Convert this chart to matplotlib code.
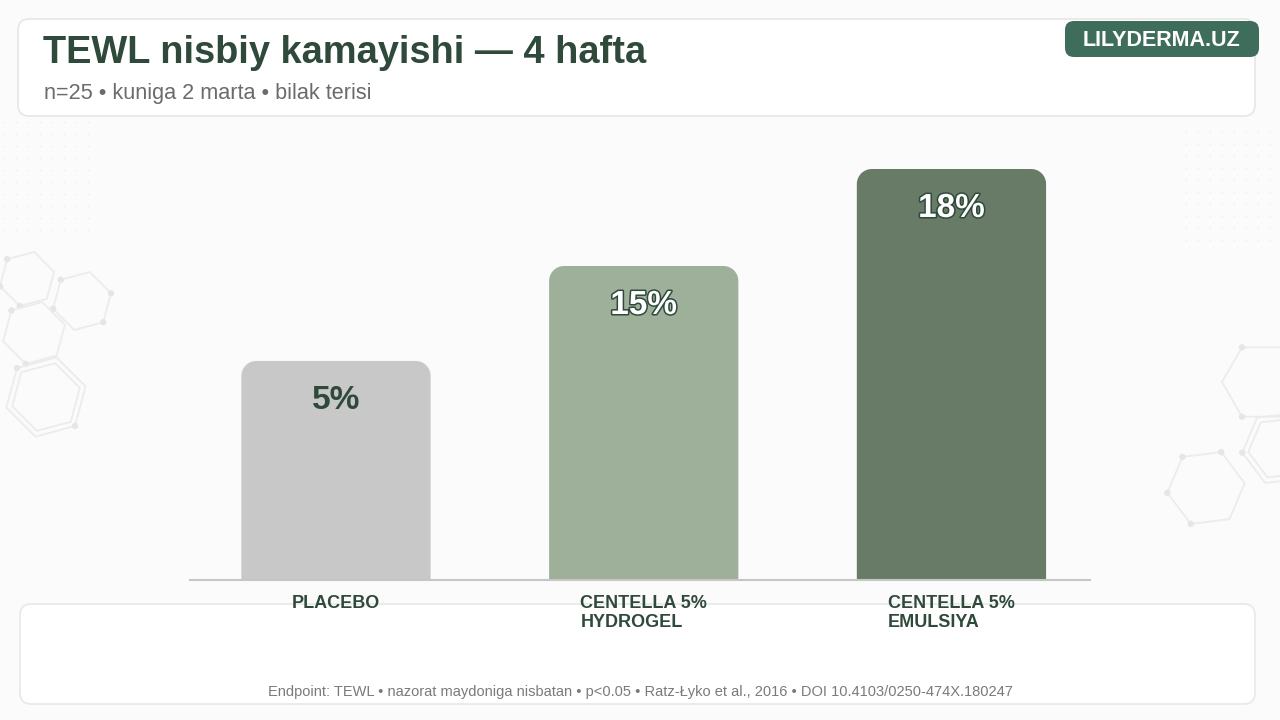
import numpy as np
import matplotlib
matplotlib.use("Agg")
import matplotlib.pyplot as plt
import matplotlib.patheffects as pe
from matplotlib.patches import FancyBboxPatch, Polygon, Circle

# data
categories = ["PLACEBO", "CENTELLA 5%\nHYDROGEL", "CENTELLA 5%\nEMULSIYA"]
tewl_drop = [5, 15, 18]            # % printed on the bars
bar_level = [53.3, 76.4, 100.0]    # bar heights as drawn (% of tallest bar)
bar_colors = ["#c8c8c8", "#9fb09a", "#677b66"]
value_colors = ["#2f4a3b", "#ffffff", "#ffffff"]

title = "TEWL nisbiy kamayishi \u2014 4 hafta"
subtitle = "n=25 \u2022 kuniga 2 marta \u2022 bilak terisi"
badge = "LILYDERMA.UZ"
footnote = ("Endpoint: TEWL \u2022 nazorat maydoniga nisbatan \u2022 p<0.05 \u2022 "
            "Ratz-\u0141yko et al., 2016 \u2022 DOI 10.4103/0250-474X.180247")

plt.rcParams['font.family'] = ['Liberation Sans', 'DejaVu Sans']
dark = "#2f4a3b"

W, H = 1280, 720
fig = plt.figure(figsize=(12.8, 7.2), dpi=100)
fig.patch.set_facecolor("#fbfbfb")

# background layer in pixel coordinates
bg = fig.add_axes([0, 0, 1, 1])
bg.set_xlim(0, W)
bg.set_ylim(H, 0)
bg.axis("off")

# faint dot grids
for x0, x1, y0, y1 in [(4, 100, 122, 232), (1186, 1280, 132, 250)]:
    gx, gy = np.meshgrid(np.arange(x0, x1, 12), np.arange(y0, y1, 12))
    bg.scatter(gx.ravel(), gy.ravel(), s=1.0, color="#ebebeb", lw=0, zorder=0)

# hexagon decorations
def hexagon(cx, cy, r, rot, dots=()):
    ang = np.deg2rad(rot + 60 * np.arange(6))
    pts = np.c_[cx + r * np.cos(ang), cy + r * np.sin(ang)]
    bg.add_patch(Polygon(pts, closed=True, fill=False, ec="#ececec", lw=1.3, zorder=0))
    for i in dots:
        bg.add_patch(Circle(pts[i], 3.2, color="#e6e6e6", lw=0, zorder=0))

hexagon(27, 279, 28, -15, (2, 3, 4))
hexagon(82, 301, 30, -15, (0, 1, 3, 4))
hexagon(34, 333, 32, -15, (2, 4))
hexagon(46, 397, 41, -15, (1, 4))
hexagon(46, 397, 35, -15)
hexagon(1262, 382, 40, 0, (2, 4, 0))
hexagon(1280, 448, 38, -7, (3,))
hexagon(1280, 448, 32, -7)
hexagon(1206, 488, 39, -7, (2, 3, 4, 5))

# header and footer cards
bg.add_patch(FancyBboxPatch((18, 19), 1237, 97, boxstyle="round,pad=0,rounding_size=11",
                            fc="white", ec="#e6e6e6", lw=1.2, zorder=1))
bg.add_patch(FancyBboxPatch((20, 604), 1235, 100, boxstyle="round,pad=0,rounding_size=11",
                            fc="white", ec="#e8e8e8", lw=1.2, zorder=1))
bg.add_patch(FancyBboxPatch((1065, 21), 194, 36, boxstyle="round,pad=0,rounding_size=9",
                            fc="#3f6d5c", ec="none", zorder=2))

bg.text(43, 63, title, fontsize=27.4, fontweight="bold", color=dark, va="baseline", zorder=3)
bg.text(44, 99, subtitle, fontsize=15.6, color="#6b6b6b", va="baseline", zorder=3)
bg.text(1162, 40, badge, fontsize=15.5, fontweight="bold", color="white",
        ha="center", va="center", zorder=3)
bg.text(640, 696, footnote, fontsize=10.5, color="#7a7a7a", ha="center",
        va="baseline", zorder=3)

# bar chart
ax_left, ax_right, base_y, top_y = 190, 1090, 580, 150
ax = fig.add_axes([ax_left / W, (H - base_y) / H, (ax_right - ax_left) / W, (base_y - top_y) / H])
ax.patch.set_alpha(0)
x = np.arange(len(categories))
xmin, xmax = -0.4744, 2.4502
ymax = (base_y - top_y) / 4.11
ax.set_xlim(xmin, xmax)
ax.set_ylim(0, ymax)
for s in ["top", "right", "left"]:
    ax.spines[s].set_visible(False)
ax.spines["bottom"].set_color("#c6c6c6")
ax.spines["bottom"].set_linewidth(1.5)
ax.set_yticks([])
ax.set_xticks([])

xs = (ax_right - ax_left) / (xmax - xmin)   # px per x unit
ys = (base_y - top_y) / ymax                # px per y unit
r_px = 15
width = 0.615

# bars with rounded top corners: take each bar's geometry, redraw as one polygon
bars = ax.bar(x, bar_level, width, color=bar_colors)
t = np.linspace(0, np.pi / 2, 20)
rx, ry = r_px / xs, r_px / ys
for b, c in zip(bars, bar_colors):
    b.set_visible(False)
    x0, w, h = b.get_x(), b.get_width(), b.get_height()
    right = np.c_[x0 + w - rx + rx * np.cos(t), h - ry + ry * np.sin(t)]
    left = np.c_[x0 + rx - rx * np.sin(t), h - ry + ry * np.cos(t)]
    pts = np.vstack([[x0 + w, 0], right, left, [x0, 0]])
    ax.add_patch(Polygon(pts, closed=True, fc=c, ec="none"))

for xi, lv, v, tc in zip(x, bar_level, tewl_drop, value_colors):
    tx = ax.text(xi, lv - 24 / ys, "%d%%" % v, ha="center", va="top", fontsize=24,
                 fontweight="bold", color=tc)
    if tc == "#ffffff":
        tx.set_path_effects([pe.Stroke(linewidth=2.2, foreground=dark), pe.Normal()])

for xi, lab in zip(x, categories):
    ax.text(xi, -15 / ys, lab, ha="center", va="top", multialignment="left",
            fontsize=13, fontweight="bold", color=dark, linespacing=1.15, clip_on=False)

fig.savefig("out.png", dpi=100, facecolor=fig.get_facecolor())
